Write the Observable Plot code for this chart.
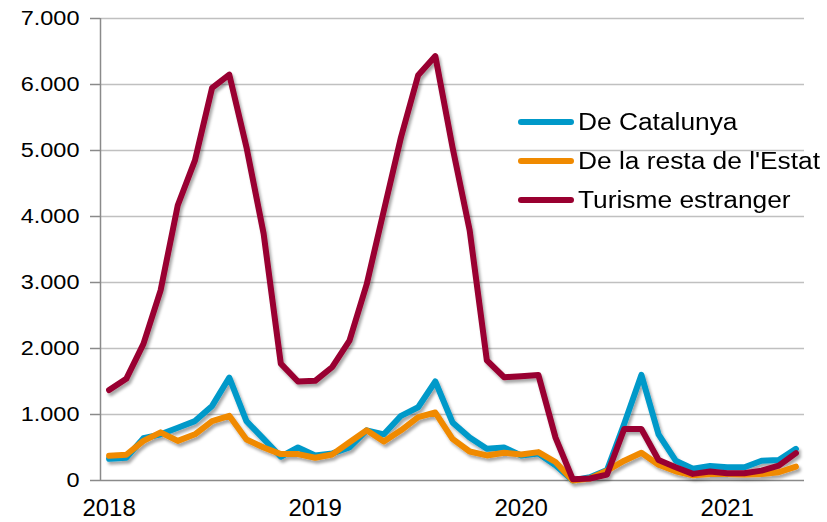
<!DOCTYPE html>
<html>
<head>
<meta charset="utf-8">
<script src="https://cdn.jsdelivr.net/npm/d3@7"></script>
<script src="https://cdn.jsdelivr.net/npm/@observablehq/plot@0.6"></script>
<style>
  html, body { margin: 0; padding: 0; background: #fff; }
  #wrap { position: relative; width: 827px; height: 522px; font-family: "Liberation Sans", Arial, sans-serif; }
  .item { position: absolute; left: 518px; display: flex; align-items: center; height: 40px; font-size: 23.5px; color: #000; white-space: nowrap; }
  .sw { width: 56px; height: 6px; border-radius: 3px; margin-right: 4px; flex: none; }
  .lbl { display: inline-block; transform: scaleX(1.12); transform-origin: left center; }
</style>
</head>
<body>
<div id="wrap"></div>
<script>
const years = ["2018", "2019", "2020", "2021"];
const seriesNames = ["De Catalunya", "De la resta de l'Estat", "Turisme estranger"];
const seriesColors = ["#0099c9", "#f08a00", "#990030"];

// Monthly values, Jan 2018 – May 2021
const catalunya = [330, 345, 640, 700, 800, 900, 1130, 1560, 900, 630, 360, 500,
                   380, 410, 500, 760, 700, 980, 1110, 1500, 880, 650, 480, 500,
                   380, 410, 230, 0, 50, 160, 860, 1600, 700, 300, 180, 220,
                   200, 200, 300, 310, 480];
const restaEstat = [375, 390, 600, 730, 600, 700, 900, 980, 620, 500, 400, 400,
                    345, 395, 580, 760, 590, 760, 960, 1030, 630, 440, 380, 420,
                    395, 430, 280, 0, 30, 150, 300, 420, 240, 140, 80, 100,
                    100, 90, 100, 125, 210];
const estranger = [1370, 1540, 2070, 2880, 4170, 4850, 5950, 6150, 5050, 3740, 1770, 1500,
                   1510, 1720, 2120, 2970, 4090, 5200, 6140, 6430, 5050, 3790, 1820, 1565,
                   1580, 1600, 650, 20, 30, 90, 780, 780, 310, 200, 100, 135,
                   110, 110, 150, 225, 415];
const yTicks = [0, 1000, 2000, 3000, 4000, 5000, 6000, 7000];

const seriesValues = [catalunya, restaEstat, estranger];
const rows = [];
seriesValues.forEach((vals, s) => vals.forEach((v, i) => rows.push({i, v, s: seriesNames[s]})));
const yearTickPos = years.map((_, k) => k * 12);

const fmt = d3.formatLocale({decimal: ",", thousands: ".", grouping: [3], currency: ["", ""]}).format(",.0f");

const chart = Plot.plot({
  width: 827,
  height: 522,
  marginLeft: 100,
  marginRight: 23,
  marginTop: 18,
  marginBottom: 42,
  style: {fontFamily: "Liberation Sans, Arial, sans-serif", color: "#000", background: "#fff"},
  x: {domain: [-0.5, seriesValues[0].length - 0.5], label: null},
  y: {domain: [0, 7000], label: null},
  color: {domain: seriesNames, range: seriesColors},
  marks: [
    Plot.gridY(yTicks.filter(d => d > 0), {stroke: "#c0c0c0", strokeOpacity: 1, strokeWidth: 1.5}),
    Plot.axisY({ticks: yTicks, tickFormat: fmt, tickSize: 10, tickPadding: 11, stroke: "#8a8a8a", strokeWidth: 1.5, label: null, fill: "#000", fontSize: 21}),
    Plot.axisX({ticks: yearTickPos, tickFormat: d => years[d / 12], tickSize: 0, tickPadding: 18, label: null, fill: "#000", fontSize: 24}),
    Plot.ruleX([-0.5], {stroke: "#8a8a8a", strokeWidth: 1.5}),
    Plot.ruleY([0], {stroke: "#8a8a8a", strokeWidth: 1.5}),
    Plot.line(rows, {x: "i", y: "v", z: "s", stroke: "s", strokeWidth: 6, strokeLinejoin: "round", strokeLinecap: "round", className: "series"})
  ]
});

const svg = d3.select(chart);
// slightly wide lettering on the value axis, as in the original
svg.selectAll('g[aria-label="y-axis tick label"] text').each(function() {
  const t = this.getAttribute("transform") || "";
  this.setAttribute("transform", t + " scale(1.12,1)");
});
// drop shadow like the original
const defs = svg.insert("defs", ":first-child");
const f = defs.append("filter").attr("id", "shadow").attr("x", "-10%").attr("y", "-10%").attr("width", "120%").attr("height", "130%");
f.append("feDropShadow").attr("dx", 2).attr("dy", 3).attr("stdDeviation", 1.8).attr("flood-color", "#000").attr("flood-opacity", 0.35);
svg.selectAll(".series").attr("filter", "url(#shadow)");

const wrap = document.getElementById("wrap");
wrap.appendChild(chart);
chart.style.position = "absolute"; chart.style.left = "0"; chart.style.top = "0";

const legendTops = [102, 141, 180];
seriesNames.forEach((n, k) => {
  const it = document.createElement("div"); it.className = "item"; it.style.top = legendTops[k] + "px";
  const sw = document.createElement("div"); sw.className = "sw"; sw.style.background = seriesColors[k];
  const t = document.createElement("span"); t.className = "lbl"; t.textContent = n;
  it.appendChild(sw); it.appendChild(t); wrap.appendChild(it);
});
</script>
</body>
</html>
